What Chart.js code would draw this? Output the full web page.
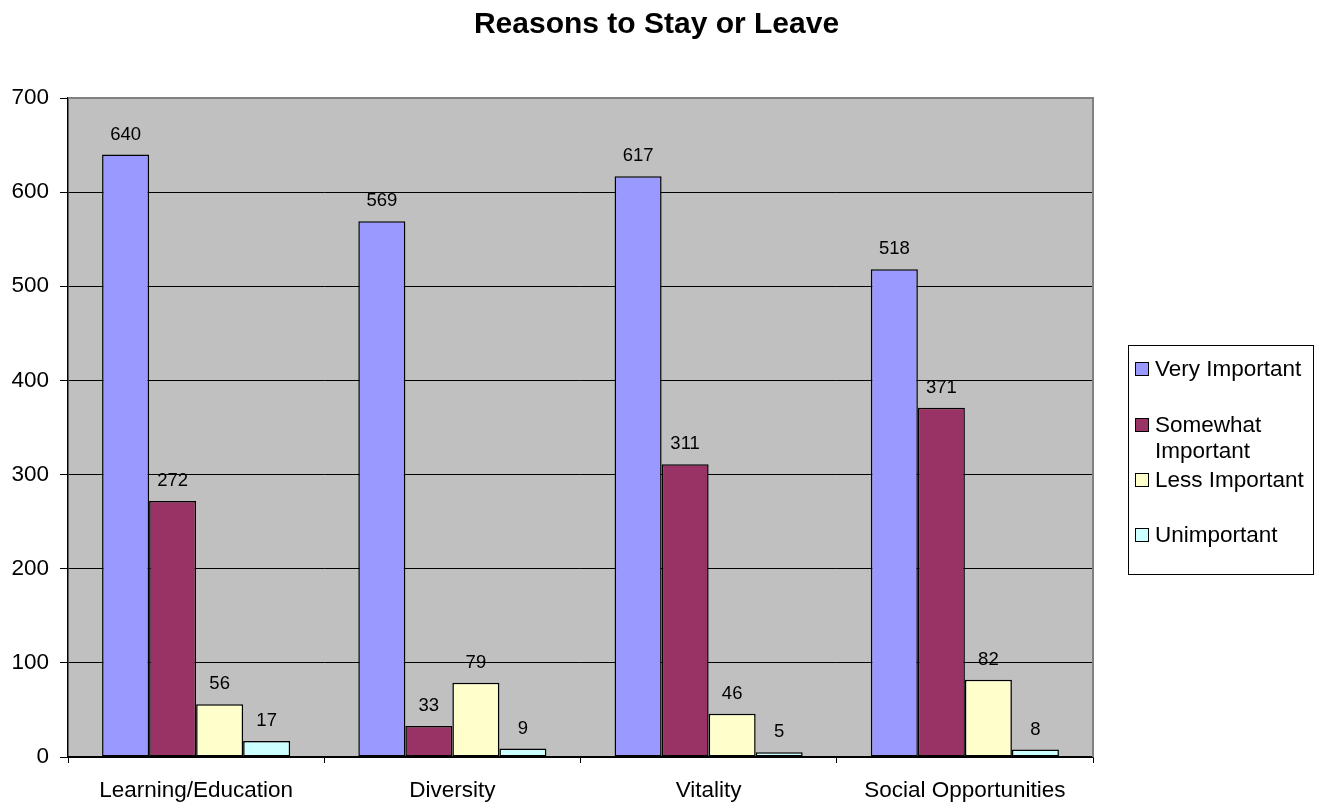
<!DOCTYPE html>
<html>
<head>
<meta charset="utf-8">
<script src="https://cdn.jsdelivr.net/npm/chart.js@4/dist/chart.umd.min.js"></script>
<style>
  body { margin: 0; background: #fff; font-family: "Liberation Sans", Arial, sans-serif; }
  #wrap { position: relative; width: 1329px; height: 806px; }
  #title { position: absolute; left: 0; width: 1313px; top: 6px; text-align: center; font-weight: bold; font-size: 30px; }
  #legend { position: absolute; left: 1128px; top: 345px; width: 186px; height: 230px; border: 1px solid #000; box-sizing: border-box; font-size: 22.5px; background: #fff; }
  .item { position: absolute; left: 6px; line-height: 26px; }
  .sw { position: absolute; left: 0; top: 6px; width: 14px; height: 14px; border: 1px solid #000; box-sizing: border-box; }
  .lbl { position: absolute; left: 20px; top: 0; width: 165px; white-space: nowrap; }
</style>
</head>
<body>
<div id="wrap">
  <div id="title">Reasons to Stay or Leave</div>
  <canvas id="myChart" width="1329" height="806"></canvas>
  <div id="legend"></div>
</div>
<script>
'use strict';
let categories = ['Learning/Education', 'Diversity', 'Vitality', 'Social Opportunities'];
let seriesNames = ['Very Important', 'Somewhat Important', 'Less Important', 'Unimportant'];
let veryImportant = [640, 569, 617, 518];
let somewhatImportant = [272, 33, 311, 371];
let lessImportant = [56, 79, 46, 82];
let unimportant = [17, 9, 5, 8];
let yTicks = [0, 100, 200, 300, 400, 500, 600, 700];
let colors = ['#9999FF', '#993366', '#FFFFCC', '#CCFFFF'];
let allSeries = [veryImportant, somewhatImportant, lessImportant, unimportant];
let fontFam = '"Liberation Sans", Arial, sans-serif';

// legend on the right, done in html
let legendE = document.getElementById('legend');
let rowTops = [10, 66, 121, 176];
for (let i = 0; i < seriesNames.length; i++) {
  let item = document.createElement('div');
  item.className = 'item';
  item.style.top = rowTops[i] + 'px';
  item.innerHTML = '<div class="sw" style="background:' + colors[i] + '"></div><div class="lbl">' +
    seriesNames[i].replace('Somewhat Important', 'Somewhat<br>Important') + '</div>';
  legendE.appendChild(item);
}

let plotBg = {
  id: 'plotBg',
  beforeDraw(chart) {
    let a = chart.chartArea;
    let ctx = chart.ctx;
    ctx.save();
    ctx.fillStyle = '#C0C0C0';
    ctx.fillRect(a.left, a.top, a.right - a.left, a.bottom - a.top);
    ctx.restore();
  },
  afterDraw(chart) {
    // grey frame on top and right side
    let a = chart.chartArea;
    let ctx = chart.ctx;
    ctx.save();
    ctx.strokeStyle = '#808080';
    ctx.lineWidth = 2;
    ctx.beginPath();
    ctx.moveTo(a.left, a.top);
    ctx.lineTo(a.right, a.top);
    ctx.lineTo(a.right, a.bottom);
    ctx.stroke();
    ctx.restore();
  }
};

let valueLabels = {
  id: 'valueLabels',
  afterDatasetsDraw(chart) {
    let ctx = chart.ctx;
    ctx.save();
    ctx.font = '18.5px ' + fontFam;
    ctx.fillStyle = '#000';
    ctx.textAlign = 'center';
    ctx.textBaseline = 'middle';
    chart.data.datasets.forEach(function (ds, i) {
      chart.getDatasetMeta(i).data.forEach(function (bar, j) {
        ctx.fillText(ds.data[j], bar.x, bar.y - 20);
      });
    });
    ctx.restore();
  }
};

let datasets = [];
for (let i = 0; i < seriesNames.length; i++) {
  datasets.push({
    label: seriesNames[i],
    data: allSeries[i],
    backgroundColor: colors[i],
    borderColor: '#000',
    borderWidth: 1.5,
    borderSkipped: false,
    barPercentage: 1,
    categoryPercentage: 0.734
  });
}

let ctx = document.getElementById('myChart').getContext('2d');
let myChart = new Chart(ctx, {
  type: 'bar',
  data: { labels: categories, datasets: datasets },
  plugins: [plotBg, valueLabels],
  options: {
    responsive: false,
    animation: false,
    layout: { padding: { top: 98, right: 236, left: 0, bottom: 0 } },
    plugins: { legend: { display: false }, title: { display: false }, tooltip: { enabled: false } },
    scales: {
      x: {
        afterFit(s) { s.height = 49; },
        grid: { offset: true, drawOnChartArea: false, color: '#000', tickLength: 6 },
        border: { color: '#000', width: 1.5 },
        ticks: { color: '#000', padding: 14, font: { size: 22.5, family: fontFam } }
      },
      y: {
        min: 0,
        max: 700,
        afterFit(s) { s.width = 68; },
        afterBuildTicks(s) { s.ticks = yTicks.map(function (v) { return { value: v }; }); },
        grid: { color: '#000', tickLength: 8 },
        border: { color: '#000', width: 1.5 },
        ticks: { color: '#000', padding: 11, font: { size: 22.5, family: fontFam } }
      }
    }
  }
});
</script>
</body>
</html>
